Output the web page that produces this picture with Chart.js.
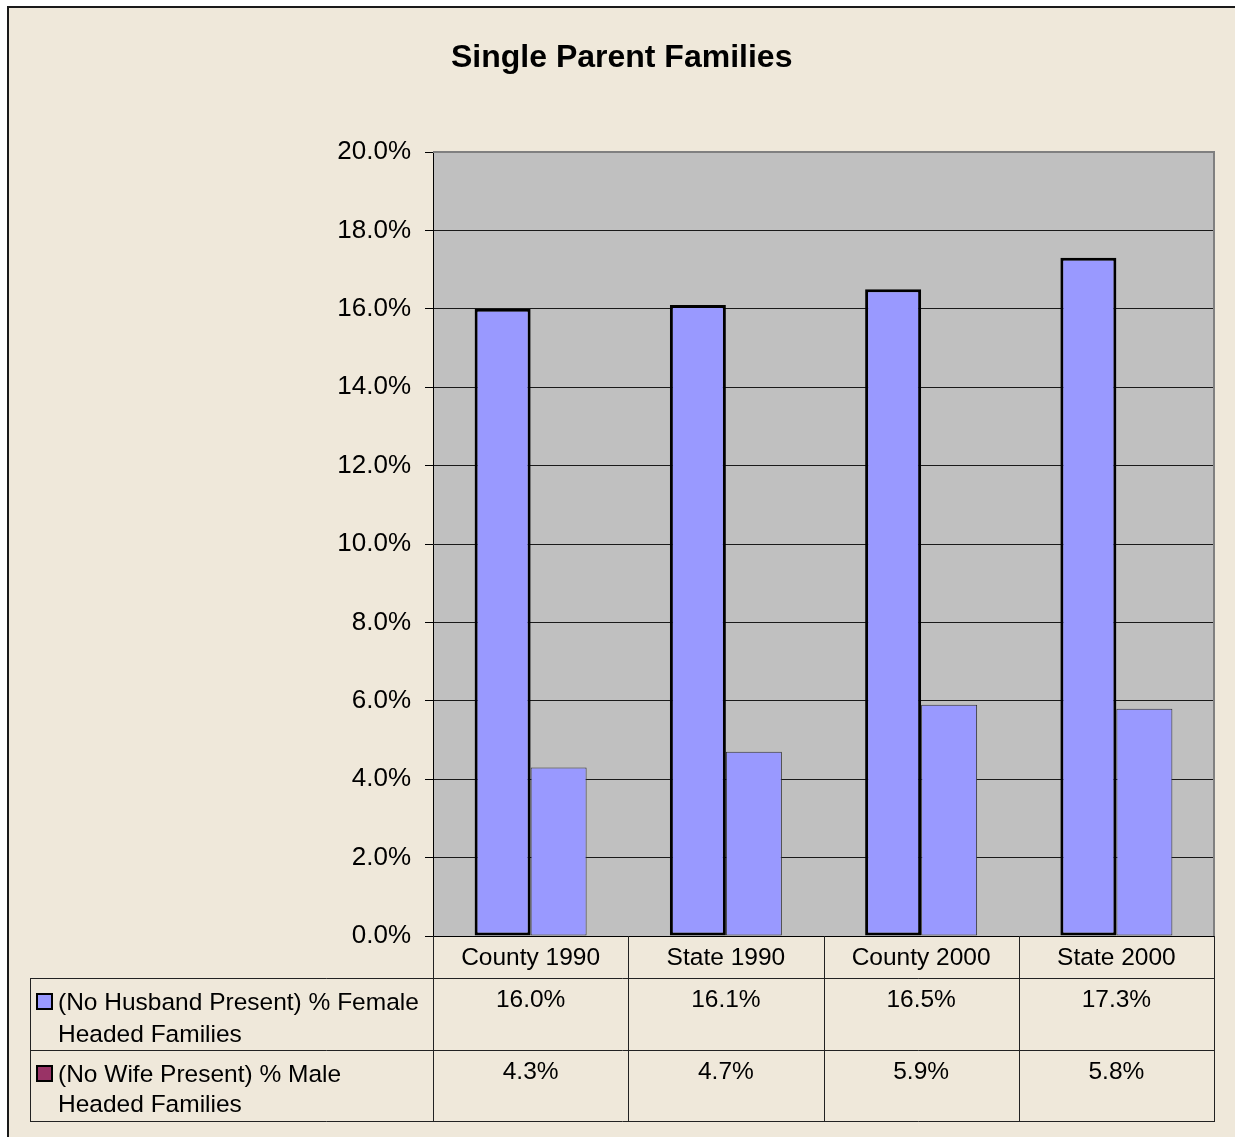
<!DOCTYPE html>
<html>
<head>
<meta charset="utf-8">
<style>
  html, body { margin: 0; padding: 0; background: #ffffff; }
  #wrap { width: 1235px; height: 1137px; }
</style>
<script src="https://cdn.jsdelivr.net/npm/chart.js@4/dist/chart.umd.min.js"></script>
</head>
<body>
<div id="wrap"><canvas id="c" width="1235" height="1137"></canvas></div>
<script>
const chartTitle = 'Single Parent Families';
const categories = ['County 1990', 'State 1990', 'County 2000', 'State 2000'];
const femaleHeaded = [0.160, 0.161, 0.165, 0.173];
const maleHeaded = [0.043, 0.047, 0.059, 0.058];
const seriesLabels = [
  ['(No Husband Present) % Female', 'Headed Families'],
  ['(No Wife Present) % Male', 'Headed Families']
];
const legendColors = ['#9999FF', '#993366'];
const yMin = 0, yMax = 0.20, yStep = 0.02;

const FONT = "'Liberation Sans', Arial, sans-serif";
const BG = '#EFE8DA';
const fmtPct = v => (v * 100).toFixed(1) + '%';

const framePlugin = {
  id: 'frame',
  beforeDraw(chart) {
    const ctx = chart.ctx, a = chart.chartArea;
    ctx.save();
    ctx.fillStyle = '#ffffff';
    ctx.fillRect(0, 0, chart.width, chart.height);
    ctx.fillStyle = BG;
    ctx.fillRect(8, 7, chart.width, chart.height);
    ctx.strokeStyle = '#1a1a1a';
    ctx.lineWidth = 2;
    ctx.strokeRect(8, 7, chart.width + 10, chart.height + 10);
    ctx.fillStyle = '#C0C0C0';
    ctx.fillRect(a.left, a.top, a.right - a.left, a.bottom - a.top);
    ctx.restore();
  },
  afterDraw(chart) {
    const ctx = chart.ctx, a = chart.chartArea;
    const xs = chart.scales.x;
    ctx.save();
    // plot border top/right
    ctx.strokeStyle = '#808080';
    ctx.lineWidth = 2;
    ctx.beginPath();
    ctx.moveTo(a.left, a.top);
    ctx.lineTo(a.right, a.top);
    ctx.lineTo(a.right, a.bottom);
    ctx.stroke();

    // title
    ctx.fillStyle = '#000';
    ctx.font = 'bold 32px ' + FONT;
    ctx.textAlign = 'center';
    ctx.textBaseline = 'alphabetic';
    ctx.fillText(chartTitle, 621.7, 66.7);

    // data table
    const rowTops = [a.bottom, 978, 1050, 1121];
    const tableLeft = 30;
    ctx.strokeStyle = '#222';
    ctx.lineWidth = 1;
    ctx.beginPath();
    for (let r = 1; r < rowTops.length; r++) {
      ctx.moveTo(tableLeft, rowTops[r] + 0.5);
      ctx.lineTo(a.right + 1, rowTops[r] + 0.5);
    }
    ctx.moveTo(tableLeft + 0.5, rowTops[1]);
    ctx.lineTo(tableLeft + 0.5, rowTops[3]);
    const n = categories.length;
    const half = (xs.getPixelForValue(1) - xs.getPixelForValue(0)) / 2;
    for (let i = 0; i <= n; i++) {
      const x = Math.round(i < n ? xs.getPixelForValue(i) - half : xs.getPixelForValue(n - 1) + half) + 0.5;
      ctx.moveTo(x, rowTops[0]);
      ctx.lineTo(x, rowTops[3]);
    }
    ctx.stroke();

    ctx.fillStyle = '#000';
    ctx.font = '24.5px ' + FONT;
    ctx.textAlign = 'center';
    const series = chart.data.datasets.map(d => d.data);
    for (let i = 0; i < n; i++) {
      const cx = xs.getPixelForValue(i);
      ctx.fillText(categories[i], cx, 965);
      ctx.fillText(fmtPct(series[0][i]), cx, 1007);
      ctx.fillText(fmtPct(series[1][i]), cx, 1079);
    }
    // legend keys + labels
    ctx.textAlign = 'left';
    const keyTops = [994, 1066];
    const textBase = [[1010, 1042], [1082, 1112]];
    for (let s = 0; s < 2; s++) {
      ctx.fillStyle = legendColors[s];
      ctx.fillRect(37, keyTops[s], 15, 15);
      ctx.strokeStyle = '#000';
      ctx.lineWidth = 2;
      ctx.strokeRect(37, keyTops[s], 15, 15);
      ctx.fillStyle = '#000';
      ctx.fillText(seriesLabels[s][0], 58, textBase[s][0]);
      ctx.fillText(seriesLabels[s][1], 58, textBase[s][1]);
    }
    ctx.restore();
  }
};

new Chart(document.getElementById('c'), {
  type: 'bar',
  data: {
    labels: categories,
    datasets: [
      {
        label: seriesLabels[0].join(' '),
        data: femaleHeaded,
        backgroundColor: '#9999FF',
        borderColor: '#000000',
        borderWidth: 3,
        borderSkipped: false
      },
      {
        label: seriesLabels[1].join(' '),
        data: maleHeaded,
        backgroundColor: '#9999FF',
        borderColor: '#333333',
        borderWidth: 1,
        borderSkipped: false
      }
    ]
  },
  options: {
    responsive: false,
    animation: false,
    events: [],
    layout: { padding: { top: 152, left: 0, right: 21, bottom: 0 } },
    plugins: {
      legend: { display: false },
      title: { display: false },
      tooltip: { enabled: false }
    },
    datasets: {
      bar: { categoryPercentage: 0.5736, barPercentage: 1.0 }
    },
    scales: {
      x: {
        display: true,
        grid: { display: false, drawTicks: false },
        ticks: { display: false },
        border: { display: true, color: '#000000', width: 1 },
        afterFit(s) { s.height = 201; }
      },
      y: {
        min: yMin,
        max: yMax,
        ticks: {
          stepSize: yStep,
          color: '#000000',
          padding: 14,
          font: { family: FONT, size: 26 },
          callback: v => fmtPct(v)
        },
        grid: {
          color: '#1a1a1a',
          lineWidth: 1,
          drawTicks: true,
          tickLength: 8,
          tickColor: '#000000'
        },
        border: { display: true, color: '#000000', width: 1 },
        afterFit(s) { s.width = 433; }
      }
    }
  },
  plugins: [framePlugin]
});
</script>
</body>
</html>
